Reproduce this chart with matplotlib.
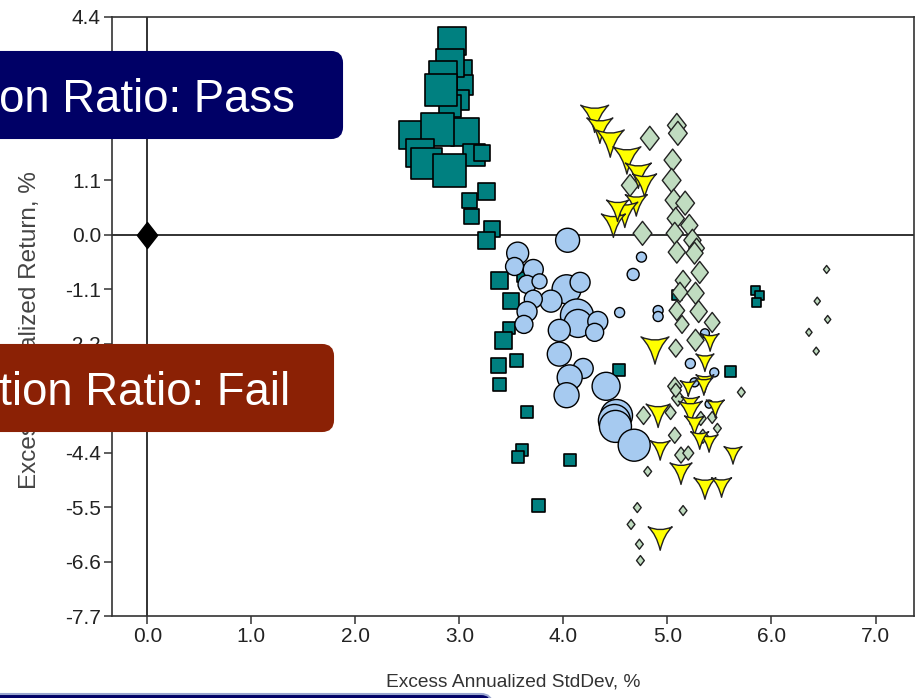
import numpy as np
import matplotlib.pyplot as plt
from matplotlib.path import Path
from matplotlib.patches import FancyBboxPatch
from matplotlib.transforms import IdentityTransform

plt.rcParams['font.family'] = ['Liberation Sans', 'DejaVu Sans']

# teal squares (excess std dev %, excess return %, marker size px)
sq_x = [3.02, 3.03, 3.00, 2.93, 2.91, 2.84, 2.91, 2.82, 2.55, 3.05, 3.14, 3.22, 2.79, 2.62, 2.68, 2.90,
        3.10, 3.26, 3.12, 3.31, 3.26, 3.60, 3.39, 3.50, 3.48, 3.42, 3.38, 3.55, 3.39, 3.65,
        3.60, 3.56, 4.06, 3.76, 4.53, 5.09, 5.61, 5.85, 5.88, 5.86]
sq_y = [3.32, 3.02, 2.72, 3.91, 3.48, 3.22, 2.60, 2.92, 2.01, 2.07, 1.61, 1.65, 2.13, 1.65, 1.44, 1.30,
        0.70, 0.88, 0.37, 0.11, -0.11, -0.86, -0.92, -1.34, -1.89, -2.13, -2.64, -2.54, -3.02, -3.57,
        -4.35, -4.49, -4.55, -5.46, -2.74, -1.22, -2.76, -1.12, -1.22, -1.36]
sq_px = [20, 20, 20, 28, 28, 28, 22, 32, 28, 28, 22, 16, 33, 28, 31, 33,
         15, 17, 15, 16, 17, 10, 17, 16, 12, 17, 15, 13, 13, 12,
         12, 12, 12, 13, 12, 10, 11, 9, 9, 9]

# light blue circles
ci_x = [4.04, 3.56, 3.53, 3.71, 3.65, 3.77, 4.03, 4.16, 3.88, 3.71, 3.65, 3.62, 4.13, 4.14, 4.33,
        4.30, 3.96, 3.96, 4.19, 4.06, 4.03, 4.41, 4.51, 4.49, 4.50, 4.68,
        4.54, 4.75, 4.67, 4.91, 4.91, 5.36, 5.22, 5.45, 5.26, 5.40]
ci_y = [-0.11, -0.37, -0.64, -0.70, -1.00, -0.94, -1.10, -0.96, -1.34, -1.30, -1.55, -1.81, -1.63, -1.79, -1.75,
        -1.97, -1.93, -2.41, -2.70, -2.88, -3.24, -3.06, -3.65, -3.75, -3.87, -4.25,
        -1.57, -0.45, -0.80, -1.53, -1.65, -1.99, -2.60, -2.78, -2.98, -3.42]
ci_px = [24, 22, 18, 20, 18, 15, 29, 20, 22, 18, 20, 18, 33, 28, 20,
         18, 22, 24, 20, 25, 25, 28, 32, 32, 32, 32,
         10, 10, 12, 10, 10, 9, 10, 9, 9, 8]

# pale green diamonds
gr_x = [4.83, 5.09, 5.10, 4.64, 5.05, 5.04, 5.06, 5.17, 5.08, 5.21, 4.76, 5.07, 5.24, 5.28, 5.09,
        5.26, 5.31, 5.15, 5.12, 5.27, 5.30, 5.09, 5.14, 5.43, 5.27, 5.08, 5.07, 5.10, 4.77, 5.03,
        5.08, 5.07, 5.13, 5.20, 5.32, 5.43, 5.34, 5.48, 4.81, 5.71, 4.71, 4.65, 5.15, 4.73, 4.74,
        6.53, 6.44, 6.54, 6.36, 6.43]
gr_y = [1.95, 2.21, 2.05, 1.00, 1.51, 1.10, 0.70, 0.64, 0.33, 0.19, 0.03, 0.03, -0.11, -0.27, -0.35,
        -0.37, -0.76, -0.92, -1.16, -1.18, -1.55, -1.53, -1.81, -1.77, -2.13, -2.29, -3.06, -3.30, -3.65, -3.59,
        -3.14, -4.05, -4.45, -4.41, -3.71, -3.69, -4.07, -3.91, -4.78, -3.18, -5.51, -5.85, -5.57, -6.25, -6.58,
        -0.70, -1.34, -1.71, -1.97, -2.35]
gr_px = [24, 24, 24, 22, 22, 24, 22, 24, 22, 22, 24, 22, 22, 20, 22,
         22, 22, 20, 20, 22, 22, 20, 18, 20, 22, 18, 18, 16, 18, 14,
         14, 16, 16, 14, 14, 12, 14, 10, 10, 10, 10, 10, 10, 10, 10,
         8, 8, 8, 8, 8]

# yellow arrowheads
ye_x = [4.30, 4.35, 4.45, 4.61, 4.72, 4.78, 4.70, 4.59, 4.48, 4.52, 4.88, 5.41, 5.36, 5.36, 5.20,
        5.22, 4.91, 5.22, 5.35, 5.46, 5.26, 5.40, 5.31, 4.93, 5.13, 5.63, 5.36, 5.52, 4.93]
ye_y = [2.35, 2.11, 1.85, 1.51, 1.20, 1.00, 0.60, 0.41, 0.19, 0.49, -2.33, -2.17, -2.58, -3.00, -3.10,
        -3.44, -3.65, -3.59, -3.06, -3.51, -3.85, -4.21, -4.15, -4.35, -4.82, -4.45, -5.12, -5.10, -6.13]
ye_px = [28, 26, 28, 28, 26, 24, 22, 26, 24, 22, 28, 18, 18, 18, 16,
         18, 24, 24, 18, 18, 20, 18, 18, 20, 22, 18, 22, 20, 24]

# benchmark
bm_x = [0.0]
bm_y = [0.0]

x_ticks = [0.0, 1.0, 2.0, 3.0, 4.0, 5.0, 6.0, 7.0]
y_ticks = [4.4, 3.3, 2.2, 1.1, 0.0, -1.1, -2.2, -3.3, -4.4, -5.5, -6.6, -7.7]

W, H = 916, 698


def area(px):
    # pixel width -> scatter area in pt^2 (dpi 100)
    return (np.asarray(px) * 0.72) ** 2


diamond = Path([(0, 1), (0.78, 0), (0, -1), (-0.78, 0), (0, 1)],
               [Path.MOVETO, Path.LINETO, Path.LINETO, Path.LINETO, Path.CLOSEPOLY])
arrow = Path([(-1, 0.95), (0, 0.5), (1, 0.95), (0.3, 0.3), (0, -1), (-0.3, 0.3), (-1, 0.95), (-1, 0.95)],
             [Path.MOVETO, Path.CURVE3, Path.CURVE3, Path.CURVE3, Path.CURVE3, Path.CURVE3, Path.CURVE3,
              Path.CLOSEPOLY])

fig = plt.figure(figsize=(W / 100, H / 100), dpi=100)
ax = fig.add_axes([112 / W, 1 - 616 / H, (914 - 112) / W, (616 - 17) / H])

ax.axhline(0, color='#222222', lw=1.3, zorder=1)
ax.axvline(0, color='#222222', lw=1.3, zorder=1)

ax.scatter(sq_x, sq_y, s=area(sq_px), marker='s', c='#008080', edgecolors='black', linewidths=1.2, zorder=3)
ax.scatter(ci_x, ci_y, s=area(ci_px), marker='o', c='#A6CAF0', edgecolors='black', linewidths=1.0, zorder=4)
ax.scatter(gr_x, gr_y, s=area(gr_px), marker=diamond, c='#C0DCC0', edgecolors='#222222', linewidths=1.0, zorder=5)
ax.scatter(ye_x, ye_y, s=area(ye_px), marker=arrow, c='#FFFF00', edgecolors='#222222', linewidths=1.0, zorder=6)
ax.scatter(bm_x, bm_y, s=area(26), marker=diamond, c='black', edgecolors='black', zorder=7)

ax.set_xlim(-0.34, 7.37)
ax.set_ylim(-7.7, 4.4)
ax.set_xticks(x_ticks)
ax.set_xticklabels([f'{v:.1f}' for v in x_ticks])
ax.set_yticks(y_ticks)
ax.set_yticklabels([f'{v:.1f}' for v in y_ticks])
ax.tick_params(direction='out', length=6, width=1.1, color='#333333', labelsize=15, labelcolor='#222222', pad=2)
for sp in ax.spines.values():
    sp.set_color('#333333')
    sp.set_linewidth(1.2)

ax.set_xlabel('Excess Annualized StdDev, %', fontsize=13.8, color='#333333', labelpad=20)
ax.set_ylabel('Excess Annualized Return, %', fontsize=17.5, color='#444444')
ax.yaxis.set_label_coords(-0.089, 0.477)

# overlay banners
ident = IdentityTransform()


def banner(x0, top, x1, bottom, color, text, text_right, baseline, edge=None):
    box = FancyBboxPatch((x0, H - bottom), x1 - x0, bottom - top,
                         boxstyle='round,pad=0,rounding_size=11', transform=ident,
                         facecolor=color, edgecolor=edge or color, linewidth=1.5, zorder=20)
    fig.patches.append(box)
    if text:
        fig.text(text_right, H - baseline, text, transform=ident, ha='right', va='baseline',
                 fontsize=32.8, color='white', zorder=21)


banner(-40, 52, 342, 138, '#000066', 'Information Ratio: Pass', 295, 112)
banner(-40, 345, 333, 431, '#8B2105', 'Information Ratio: Fail', 290, 405)
banner(-40, 694, 492, 760, '#000066', None, 0, 0, edge='#9AA6D0')

fig.savefig('out.png', dpi=100)
